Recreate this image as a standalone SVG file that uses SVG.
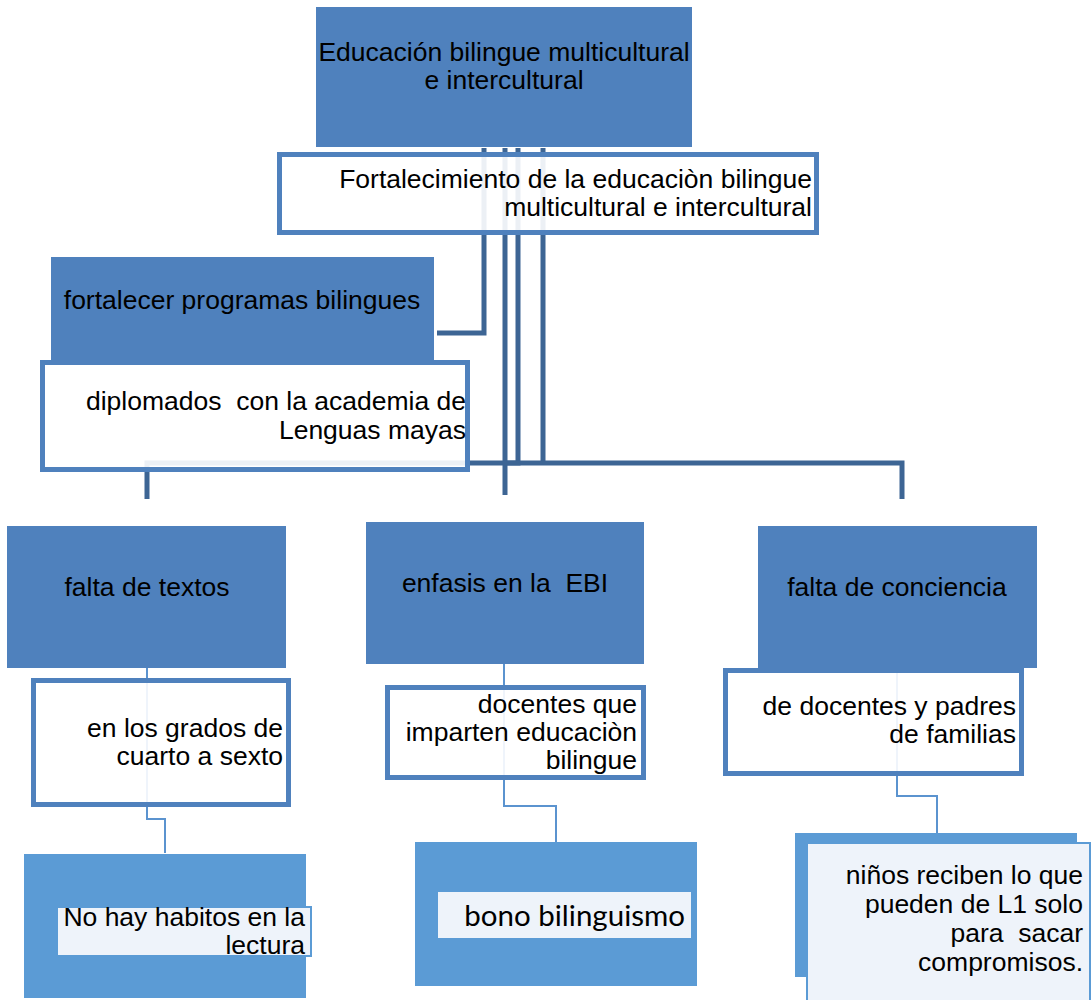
<svg xmlns="http://www.w3.org/2000/svg" width="1091" height="1000" viewBox="0 0 1091 1000">
<style>
.t{font-family:"Liberation Sans",Arial,sans-serif;font-size:26.5px;fill:#000;white-space:pre}
.c{text-anchor:middle}
.r{text-anchor:end}
.dark{fill:#4F81BD}
.wbox{fill:#fff;fill-opacity:0.9;stroke:#4F81BD;stroke-width:5}
.lb{fill:#5B9BD5}
.inner{fill:#EEF3FA;stroke:#5B9BD5;stroke-width:2}
.ct{fill:none;stroke:#3D6594;stroke-width:5}
.cl{fill:none;stroke:#5B93CF;stroke-width:2}
</style>
<rect width="1091" height="1000" fill="#fff"/>
<g id="connectors">
<path class="ct" d="M484 148 V333 H437"/>
<path class="ct" d="M505 148 V495"/>
<path class="ct" d="M518 148 V463 H505"/>
<path class="ct" d="M543 148 V463"/>
<path class="ct" d="M147 499 V463 H902 V499"/>
<path class="cl" d="M147 668 V819 H165 V853"/>
<path class="cl" d="M504 664 V806 H556 V842"/>
<path class="cl" d="M897 668 V796 H937 V833"/>
</g>
<g id="n-root">
<rect class="dark" x="316" y="7" width="376" height="140"/>
<text class="t c" x="504" y="61">Educación bilingue multicultural</text>
<text class="t c" x="504" y="89">e intercultural</text>
</g>
<g id="n-fortalecimiento">
<rect class="wbox" x="279.5" y="154.5" width="537" height="78"/>
<text class="t r" x="812" y="188">Fortalecimiento de la educaciòn bilingue</text>
<text class="t r" x="812" y="216">multicultural e intercultural</text>
</g>
<g id="n-programas">
<rect class="dark" x="51" y="257" width="383" height="105"/>
<text class="t c" x="242" y="309">fortalecer programas bilingues</text>
</g>
<g id="n-diplomados">
<rect class="wbox" x="42.5" y="362.5" width="425" height="107"/>
<text class="t r" x="466" y="410">diplomados  con la academia de</text>
<text class="t r" x="466" y="439">Lenguas mayas</text>
</g>
<g id="n-textos">
<rect class="dark" x="7" y="526" width="279" height="142"/>
<text class="t c" x="147" y="596">falta de textos</text>
</g>
<g id="n-ebi">
<rect class="dark" x="366" y="522" width="278" height="142"/>
<text class="t c" x="505" y="592">enfasis en la  EBI</text>
</g>
<g id="n-conciencia">
<rect class="dark" x="758" y="526" width="279" height="142"/>
<text class="t c" x="897" y="596">falta de conciencia</text>
</g>
<g id="n-grados">
<rect class="wbox" x="33.5" y="680.5" width="255" height="124"/>
<text class="t r" x="283" y="737">en los grados de</text>
<text class="t r" x="283" y="765">cuarto a sexto</text>
</g>
<g id="n-docentes">
<rect class="wbox" x="387.5" y="687.5" width="256" height="90"/>
<text class="t r" x="637" y="713">docentes que</text>
<text class="t r" x="637" y="741">imparten educaciòn</text>
<text class="t r" x="637" y="769">bilingue</text>
</g>
<g id="n-padres">
<rect class="wbox" x="725.5" y="670.5" width="296" height="103"/>
<text class="t r" x="1016" y="715">de docentes y padres</text>
<text class="t r" x="1016" y="743">de familias</text>
</g>
<g id="n-habitos">
<rect class="lb" x="24" y="854" width="282" height="144"/>
<rect class="inner" x="57" y="907" width="254" height="49"/>
<text class="t r" x="305" y="926">No hay habitos en la</text>
<text class="t r" x="305" y="954">lectura</text>
</g>
<g id="n-bono">
<rect class="lb" x="415" y="842" width="282" height="144"/>
<rect fill="#EEF3FA" x="438" y="892" width="253" height="46"/>
<text x="685" y="926" text-anchor="end" font-family="Lato,'Open Sans',sans-serif" font-size="29.5" fill="#000">bono bilinguismo</text>
</g>
<g id="n-ninos">
<rect class="lb" x="795" y="833" width="282" height="144"/>
<rect class="inner" x="807" y="843" width="283" height="162"/>
<text class="t r" x="1083" y="884">niños reciben lo que</text>
<text class="t r" x="1083" y="913">pueden de L1 solo</text>
<text class="t r" x="1083" y="942">para  sacar</text>
<text class="t r" x="1083" y="971">compromisos.</text>
</g>
</svg>
